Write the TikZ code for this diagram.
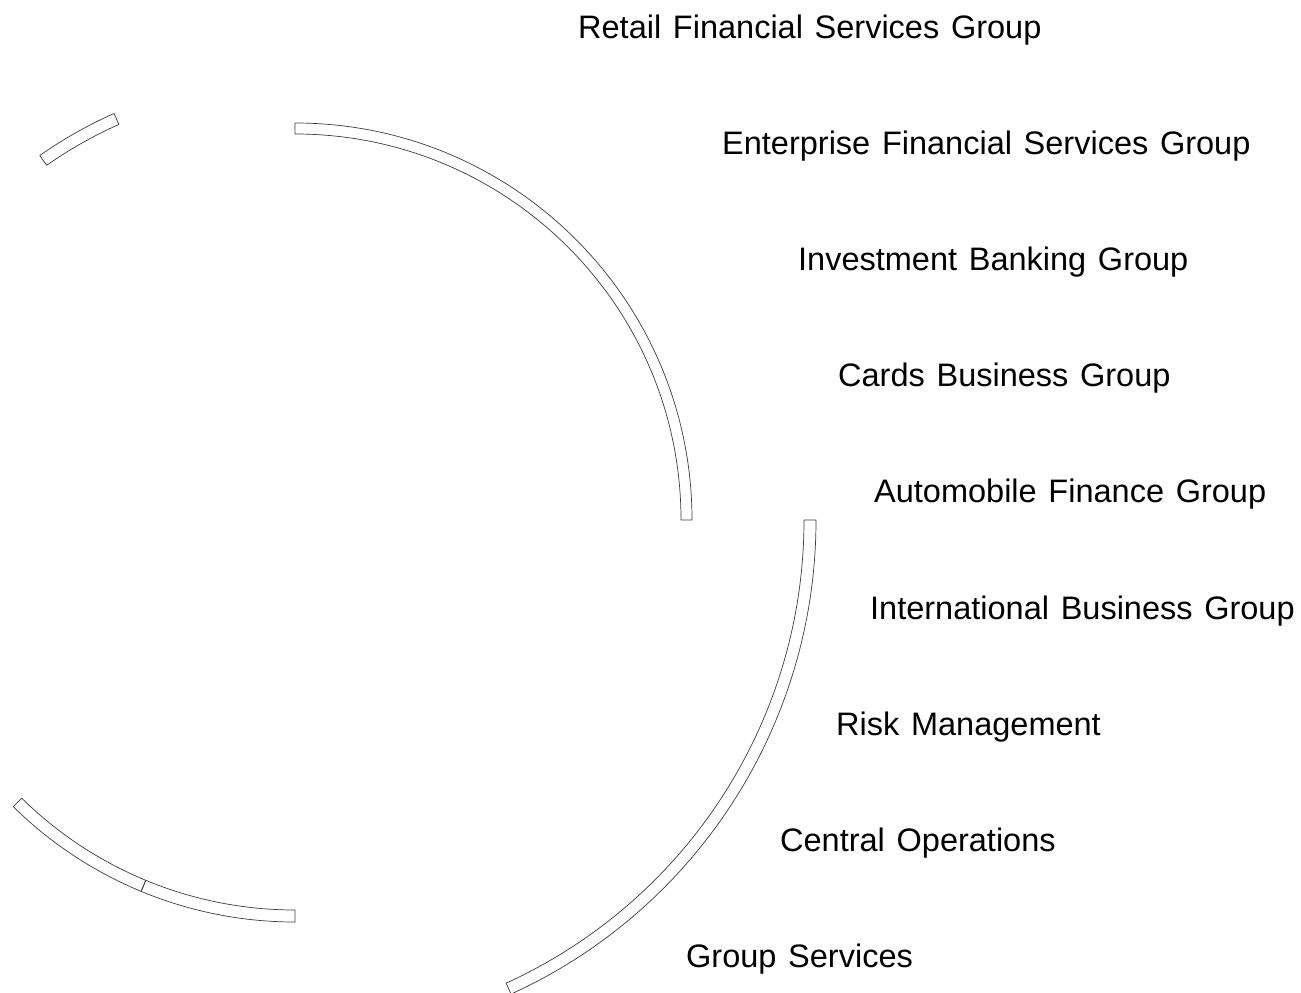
\documentclass[tikz,border=0pt]{standalone}
\usepackage{fontspec}
\setmainfont{Liberation Sans}
\usepackage{tikz}

\begin{document}
\begin{tikzpicture}[x=1pt,y=1pt]

  % Colours and sizes (one pt per pixel of the page)
  \definecolor{cR}{RGB}{60,60,60}    % ring outline
  \def\ctr{(295,-520)}
  \def\grpfont{\fontsize{32.5}{38}\selectfont\spaceskip=0.36em\relax}
  \tikzset{ring/.style={draw=cR,line width=0.7pt,line join=round},
           grp/.style={anchor=base west,inner sep=0pt,font=\grpfont}}

  \useasboundingbox (0,0) rectangle (1301,-993);

  % ---- ring pieces, all round the same centre ----
  % upper quarter
  \draw[ring,shift={\ctr}] (0:397) arc[start angle=0,end angle=90,radius=397]
    -- (90:386) arc[start angle=90,end angle=0,radius=386] -- cycle;
  % small piece, top left
  \draw[ring,shift={\ctr}] (114:445) arc[start angle=114,end angle=125,radius=445]
    -- (125:433) arc[start angle=125,end angle=114,radius=433] -- cycle;
  % outer piece, lower right
  \draw[ring,shift={\ctr}] (-65.5:521) arc[start angle=-65.5,end angle=0,radius=521]
    -- (0:509) arc[start angle=0,end angle=-65.5,radius=509] -- cycle;
  % two pieces, bottom left
  \foreach \a/\b in {225.5/247.5,247.5/270}
    \draw[ring,shift={\ctr}] (\a:402) arc[start angle=\a,end angle=\b,radius=402]
      -- (\b:390) arc[start angle=\b,end angle=\a,radius=390] -- cycle;

  % ---- the group names, one per row ----
  \foreach \i/\xl/\txt in {1/578/Retail Financial Services Group,
                           2/722/Enterprise Financial Services Group,
                           3/798/Investment Banking Group,
                           4/838/Cards Business Group,
                           5/874/Automobile Finance Group,
                           6/870/International Business Group,
                           7/836/Risk Management,
                           8/780/Central Operations,
                           9/686/Group Services}
  {
    \pgfmathsetmacro{\yb}{-38-116.2*(\i-1)}
    \node[grp] (grp\i) at (\xl,\yb) {\txt};
  }

\end{tikzpicture}
\end{document}
